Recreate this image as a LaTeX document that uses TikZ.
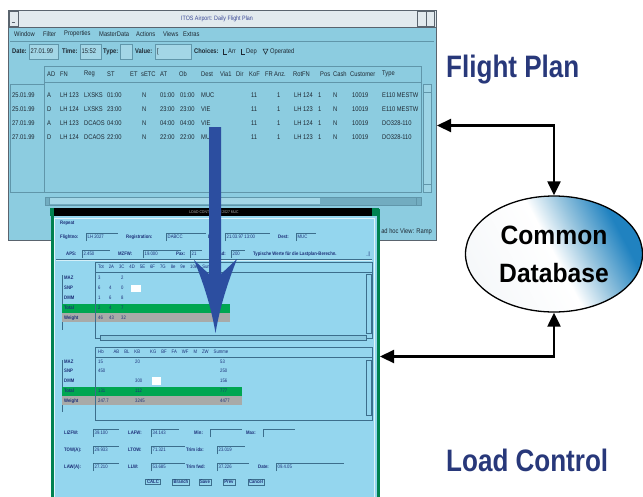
\documentclass[tikz,border=0pt]{standalone}
\usepackage{fontspec}
\setmainfont{Liberation Sans}
\newfontfamily\titlefont{Liberation Sans}[FakeStretch=0.84]
\newfontfamily\dbfont{Liberation Sans}[FakeStretch=0.93]
\newfontfamily\winfont{Liberation Sans}[FakeStretch=0.85]
\usetikzlibrary{arrows.meta,shapes.geometric}
\definecolor{fpblue}{RGB}{140,204,224}
\definecolor{fpdark}{RGB}{96,150,170}
\definecolor{fpframe}{RGB}{90,100,110}
\definecolor{fptext}{RGB}{30,40,50}
\definecolor{fptitle}{RGB}{60,74,150}
\definecolor{titlegrey}{RGB}{226,234,238}
\definecolor{lcblue}{RGB}{148,214,238}
\definecolor{lcgreen}{RGB}{0,130,80}
\definecolor{lctext}{RGB}{28,47,120}
\definecolor{lcedge}{RGB}{60,110,140}
\definecolor{band}{RGB}{0,166,81}
\definecolor{bandgrey}{RGB}{168,170,168}
\definecolor{navy}{RGB}{40,56,122}
\definecolor{arrowblue}{RGB}{44,78,160}
\definecolor{dbblue}{RGB}{32,130,192}
\definecolor{dbwhite}{RGB}{246,248,250}
\definecolor{dbmid}{RGB}{150,196,222}
\pgfdeclarehorizontalshading{dbshade}{100bp}{color(0bp)=(dbwhite); color(25bp)=(dbwhite); color(50bp)=(white); color(60bp)=(dbmid); color(72bp)=(dbblue); color(100bp)=(dbblue)}
\newcommand\LCfield[6]{%
  \node[lcbold] (lcl#1x#2) at (#1,#2) {#3:};
  \draw[lcedge,line width=0.5pt] (#4,#2+4) -- (#4,#2-4) -- (#4+#5,#2-4);
  \node[lctxt] (lcv#1x#2) at (#4+1.5,#2) {#6};
}
\begin{document}
\begin{tikzpicture}[x=1pt,y=-1pt,
  fptxt/.style={font=\winfont\fontsize{6.8}{7}\selectfont, text=fptext, inner sep=0pt, anchor=west},
  fpbold/.style={fptxt, font=\winfont\bfseries\fontsize{6.8}{7}\selectfont},
  lctxt/.style={font=\winfont\fontsize{5}{5}\selectfont, text=lctext, inner sep=0pt, anchor=west},
  lcbold/.style={lctxt, font=\winfont\bfseries\fontsize{5}{5}\selectfont},
  fpfield/.style={draw=fpdark, fill=fpblue!80!white, line width=0.5pt},
  paneline/.style={draw=fpdark, line width=0.7pt},
  conn/.style={draw=black, line width=2.2pt, {Triangle[length=14pt,width=13pt]}-{Triangle[length=14pt,width=13pt]}},
  bigtitle/.style={font=\titlefont\bfseries\fontsize{31}{36}\selectfont, text=navy, inner sep=0pt},
  button/.style={draw=lcedge, line width=0.5pt, inner sep=1.2pt, font=\winfont\bfseries\fontsize{5}{5}\selectfont, text=lctext}
]
\useasboundingbox (0,0) rectangle (643,496);
\clip (0,0) rectangle (643,496);
\fill[white] (0,0) rectangle (643,496);

% ---------------- Flight plan window ----------------
\node[draw=fpframe, fill=fpblue, line width=1pt, minimum width=428pt, minimum height=230pt, anchor=north west, inner sep=0pt] (fp) at (8,10) {};
\fill[titlegrey] (8.5,10.5) rectangle (435.5,27);
\draw[fpframe, line width=0.6pt] (8,27) -- (436,27);
\draw[fpframe, line width=0.4pt, fill=titlegrey] (9.5,11.5) rectangle (18,26);
\draw[fpframe, line width=0.4pt] (11.5,22) -- (15,22);
\draw[fpframe, line width=0.4pt, fill=titlegrey] (417,11.5) rectangle (426,26);
\draw[fpframe, line width=0.4pt, fill=titlegrey] (426,11.5) rectangle (434.5,26);
\node[font=\winfont\fontsize{6.3}{7}\selectfont, text=fptitle, inner sep=0pt] (fpname) at (217,18.5) {ITOS Airport: Daily Flight Plan};
\draw[fpdark, line width=0.4pt] (10,41) -- (434,41);

\foreach \x/\t [count=\i] in {14/Window,43/Filter,64/Properties,99/MasterData,136/Actions,163/Views,183/Extras}
  \node[fptxt] (menu\i) at (\x,34) {\t};

% field row
\draw[fpfield] (29,44) rectangle (58,59);
\draw[fpfield] (80,44) rectangle (101,59);
\draw[fpfield] (120,44) rectangle (132,59);
\draw[fpfield] (155,44) rectangle (191,59);
\node[fpbold] (ldate) at (12,51.5) {Date:};
\node[fptxt] (vdate) at (30.5,51.5) {27.01.99};
\node[fpbold] (ltime) at (62,51.5) {Time:};
\node[fptxt] (vtime) at (81.5,51.5) {15:52};
\node[fpbold] (ltype) at (103,51.5) {Type:};
\node[fpbold] (lval) at (135,51.5) {Value:};
\node[fptxt] (vval) at (157,51.5) {[};
\node[fpbold] (lchoice) at (194,51.5) {Choices:};
\draw[fptext, line width=0.5pt] (223,49) |- (226.5,54);
\node[fptxt] (carr) at (228,51.5) {Arr};
\draw[fptext, line width=0.5pt] (241,49) |- (244.5,54);
\node[fptxt] (cdep) at (246,51.5) {Dep};
\draw[fptext, line width=0.5pt] (263,49) -- (268,49) -- (265.5,54) -- cycle;
\node[fptxt] (cop) at (270,51.5) {Operated};

% table header
\draw[paneline, fill=fpblue] (44,66) rectangle (421,82);
\foreach \x/\t [count=\i] in {47/AD,60/FN,84/Reg,107/ST,130/ET,141/sETC,160/AT,179/Ob,201/Dest,220/Via1,236/Dir,249/KoF,265/FR,274/Anz.,293/RotFN,320/Pos,333/Cash,350/Customer,382/Type}
  \node[fptxt] (hd\i) at (\x,74) {\t};

% panes
\draw[paneline] (10,84) rectangle (44,192);
\draw[paneline] (44,82) rectangle (421,192);
\draw[paneline, fill=fpblue!85!white] (423,84) rectangle (431,192);
\draw[paneline] (423,84) rectangle (431,92);
\draw[paneline] (423,184) rectangle (431,192);

\foreach \y/\vA/\vB/\vC/\vD/\vE/\vF/\vG/\vH/\vI [count=\r] in {
  95/25.01.99/A/LH 123/LXSKS/01:00/01:00/MUC/LH 124/E110 MESTW,
  109/25.01.99/D/LH 124/LXSKS/23:00/23:00/VIE/LH 123/E110 MESTW,
  123/27.01.99/A/LH 123/DCAOS/04:00/04:00/VIE/LH 124/DO328-110,
  137/27.01.99/D/LH 124/DCAOS/22:00/22:00/MUC/LH 123/DO328-110}{
  \node[fptxt] (dt\r) at (12,\y) {\vA};
  \node[fptxt] (ad\r) at (47,\y) {\vB};
  \node[fptxt] (fn\r) at (60,\y) {\vC};
  \node[fptxt] (rg\r) at (84,\y) {\vD};
  \node[fptxt] (st\r) at (107,\y) {\vE};
  \node[fptxt] (n\r) at (142,\y) {N};
  \node[fptxt] (at\r) at (160,\y) {\vF};
  \node[fptxt] (ob\r) at (180,\y) {\vF};
  \node[fptxt] (ds\r) at (201,\y) {\vG};
  \node[fptxt] (kf\r) at (251,\y) {11};
  \node[fptxt] (fr\r) at (277,\y) {1};
  \node[fptxt] (rt\r) at (294,\y) {\vH};
  \node[fptxt] (ps\r) at (318,\y) {1};
  \node[fptxt] (cs\r) at (333,\y) {N};
  \node[fptxt] (cu\r) at (352,\y) {10019};
  \node[fptxt] (ty\r) at (382,\y) {\vI};
}

% horizontal scrollbar
\draw[paneline, fill=fpdark!60!fpblue] (45,197) rectangle (421,205);
\fill[fpblue!80!white] (49,198) rectangle (320,204);
\draw[paneline] (45,197) rectangle (49,205);
\draw[paneline] (416,197) rectangle (421,205);
\node[fptxt, anchor=east] (adhoc) at (432,232) {ad hoc View: Ramp};

% ---------------- Load control window ----------------
\node[draw=lcgreen, line width=3pt, fill=lcblue, minimum width=326pt, minimum height=292pt, anchor=north west, inner sep=0pt] (lc) at (51,209) {};
\fill[black] (52,208) rectangle (376,216);
\fill[lcgreen] (49.5,208) rectangle (54,216);
\fill[lcgreen] (372,208) rectangle (378.5,216);
\node[font=\winfont\fontsize{4}{4}\selectfont, text=gray!60, inner sep=0pt] (lctitle) at (214,212) {LOAD CONTROL  LH 2027  MUC};
\draw[white!70!lcblue, line width=0.6pt] (54,218) rectangle (374,500);

\node[lcbold] (rep) at (60,223) {Repeat};
\LCfield{60}{237}{Flightno}{86}{32}{LH 2027}
\LCfield{126}{237}{Registration}{166}{40}{DABCC}
\LCfield{208}{237}{Date}{225}{45}{21.03.97 13:00}
\LCfield{278}{237}{Dest}{296}{20}{MUC}
\LCfield{66}{254}{APS}{82}{28}{2.450}
\LCfield{118}{254}{MZFW}{143}{38}{19.000}
\LCfield{176}{254}{Pax}{190}{12}{21}
\LCfield{214}{254}{Load}{231}{14}{200}
\node[lcbold] (hint) at (253,254) {Typische Werte f\"ur die Lastplan-Berechn.};
\node[lcbold] (hintmark) at (366,254) {\_|};
\draw[lcedge, line width=0.5pt] (56,259) -- (372,259);
\draw[white!60!lcblue, line width=0.5pt] (56,260.5) -- (372,260.5);

% section 1
\draw[lcedge, line width=0.5pt] (95,262) rectangle (372,272);
\node[lctxt] (h1) at (98,267) {Tot\quad 2A\quad 3C\quad 4D\quad 5E\quad 6F\quad 7G\quad 8e\quad 9e\quad 10e\quad Summe};
\draw[lcedge, line width=0.5pt] (95,272) rectangle (372,338);
\draw[lcedge, line width=0.6pt] (62,275) -- (62,330);
\fill[band] (62,304) rectangle (230,313);
\fill[bandgrey] (62,313) rectangle (230,322);
\draw[lcedge, line width=0.5pt] (95,272) -- (95,335);
\foreach \y/\lab/\a/\b/\c [count=\r] in {278/MAZ/3//2, 288/SNP/6/4/0, 298/DMM/1/6/8, 308/Total/2/4/7, 318/Weight/46/43/32}{
  \node[lcbold] (s1l\r) at (64,\y) {\lab};
  \node[lctxt] (s1a\r) at (98,\y) {\a};
  \node[lctxt] (s1b\r) at (109,\y) {\b};
  \node[lctxt] (s1c\r) at (121,\y) {\c};
}
\fill[white] (131,285) rectangle (141,292);
\draw[lcedge, line width=0.5pt] (366,274) rectangle (371,333);
\draw[lcedge, line width=0.5pt, fill=lcblue!80!fpdark] (100,335) rectangle (366,340);

% section 2
\draw[lcedge, line width=0.5pt] (95,347) rectangle (372,357);
\node[lctxt] (h2) at (98,352) {Hb\qquad AB\quad BL\quad KB\qquad KG\quad BF\quad FA\quad WF\quad M\quad ZW\quad Summe};
\draw[lcedge, line width=0.5pt] (95,357) rectangle (372,420);
\draw[lcedge, line width=0.6pt] (62,360) -- (62,412);
\fill[band] (62,387) rectangle (242,396);
\fill[bandgrey] (62,396) rectangle (242,405);
\draw[lcedge, line width=0.5pt] (95,357) -- (95,418);
\foreach \y/\lab/\a/\b/\c [count=\r] in {362/MAZ/15/20/53, 371/SNP/450//250, 381/DMM//300/156, 391/Total/131/112/777, 401/Weight/247.7/3245/4477}{
  \node[lcbold] (s2l\r) at (64,\y) {\lab};
  \node[lctxt] (s2a\r) at (98,\y) {\a};
  \node[lctxt] (s2b\r) at (135,\y) {\b};
  \node[lctxt] (s2c\r) at (220,\y) {\c};
}
\fill[white] (152,377) rectangle (161,385);
\draw[lcedge, line width=0.5pt] (366,360) rectangle (371,415);

% weight fields
\LCfield{64}{433}{LIZFW}{93}{26}{39.100}
\LCfield{128}{433}{LAFW}{151}{28}{34.143}
\LCfield{194}{433}{Min}{210}{32}{}
\LCfield{246}{433}{Max}{263}{32}{}
\LCfield{64}{450}{TOW(A)}{93}{26}{29.933}
\LCfield{128}{450}{LTOW}{151}{34}{71.321}
\LCfield{186}{450}{Trim idx}{217}{28}{23.019}
\LCfield{64}{467}{LAW(A)}{93}{26}{27.210}
\LCfield{128}{467}{LLW}{151}{34}{53.685}
\LCfield{186}{467}{Trim fwd}{217}{32}{37.226}
\LCfield{258}{467}{Date}{276}{68}{09.4.05}

% buttons
\node[button, line width=1pt] (bcalc) at (153,482) {CALC};
\node[button] (bbr) at (181,482) {Branch};
\node[button] (bsave) at (205,482) {Save};
\node[button] (bprev) at (229,482) {Prev};
\node[button] (bcan) at (256,482) {Cancel};

% ---------------- big blue arrow ----------------
\fill[arrowblue] (209,127) -- (209,274) -- (194,260)
  .. controls (203,282) and (211,306) .. (215.5,333)
  .. controls (220,306) and (228,282) .. (237,259)
  -- (221,274) -- (221,127) -- cycle;

% ---------------- right side ----------------
\node[bigtitle, anchor=west] (fptitlebig) at (446,70) {Flight Plan};
\node[bigtitle, anchor=west] (lctitlebig) at (446,460) {Load Control};

\node[ellipse, draw=black, line width=1.3pt, minimum width=177pt, minimum height=116pt, inner sep=0pt,
      shade, shading=dbshade, shading angle=28,
      align=center, font=\dbfont\bfseries\fontsize{26.5}{38}\selectfont, text=black] (db) at (554,254) {Common\\Database};

\draw[conn] (fp.east) -| (db.north);
\draw[conn] (lc.east) -| (db.south);
\end{tikzpicture}
\end{document}
